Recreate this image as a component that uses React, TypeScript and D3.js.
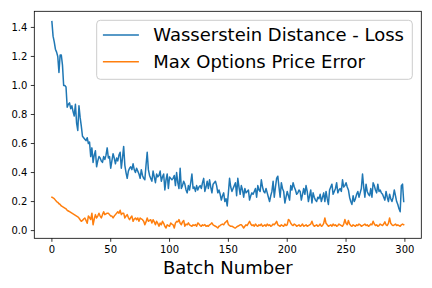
import React from "react";
import * as d3 from "d3";

const wassersteinLoss: number[] = [
  1.44,1.34,1.30,1.25,1.23,1.20,1.09,1.21,1.21,1.14,
  1.00,1.00,0.99,0.85,0.87,0.88,0.84,0.86,0.82,0.79,
  0.87,0.74,0.69,0.86,0.78,0.72,0.65,0.64,0.63,0.62,
  0.64,0.60,0.61,0.51,0.57,0.47,0.52,0.55,0.44,0.48,
  0.51,0.50,0.48,0.47,0.51,0.49,0.52,0.57,0.50,0.51,
  0.43,0.48,0.53,0.50,0.46,0.50,0.48,0.52,0.54,0.43,
  0.50,0.58,0.45,0.40,0.36,0.41,0.43,0.44,0.42,0.46,
  0.42,0.40,0.43,0.41,0.39,0.36,0.42,0.38,0.36,0.35,
  0.45,0.54,0.42,0.38,0.36,0.34,0.41,0.37,0.33,0.39,
  0.37,0.38,0.41,0.34,0.37,0.39,0.28,0.35,0.39,0.29,
  0.37,0.36,0.35,0.36,0.38,0.31,0.40,0.33,0.29,0.43,
  0.29,0.31,0.34,0.32,0.28,0.26,0.31,0.28,0.33,0.39,
  0.29,0.30,0.27,0.31,0.28,0.30,0.31,0.29,0.33,0.36,
  0.27,0.30,0.34,0.29,0.35,0.30,0.26,0.32,0.33,0.34,
  0.31,0.26,0.28,0.25,0.21,0.24,0.26,0.20,0.22,0.17,
  0.26,0.36,0.30,0.27,0.29,0.31,0.33,0.24,0.36,0.30,
  0.25,0.31,0.28,0.23,0.29,0.26,0.27,0.28,0.21,0.24,
  0.26,0.25,0.27,0.29,0.23,0.31,0.28,0.27,0.35,0.30,
  0.27,0.26,0.29,0.26,0.23,0.20,0.24,0.27,0.34,0.23,
  0.30,0.36,0.375,0.30,0.23,0.33,0.29,0.27,0.19,0.23,
  0.27,0.24,0.21,0.31,0.28,0.33,0.30,0.28,0.25,0.26,
  0.28,0.27,0.21,0.25,0.29,0.25,0.31,0.27,0.20,0.24,
  0.28,0.19,0.26,0.23,0.21,0.20,0.23,0.22,0.25,0.20,
  0.23,0.26,0.20,0.27,0.22,0.18,0.28,0.30,0.32,0.25,
  0.27,0.29,0.33,0.26,0.28,0.29,0.27,0.35,0.30,0.31,
  0.33,0.30,0.28,0.23,0.20,0.18,0.24,0.20,0.22,0.25,
  0.27,0.23,0.26,0.29,0.39,0.30,0.23,0.32,0.27,0.25,
  0.24,0.29,0.23,0.33,0.31,0.28,0.26,0.32,0.27,0.28,
  0.26,0.25,0.23,0.21,0.27,0.23,0.20,0.25,0.22,0.20,
  0.23,0.28,0.24,0.20,0.18,0.15,0.13,0.31,0.32,0.20,
];

const maxPriceError: number[] = [
  0.23,0.225,0.22,0.21,0.20,0.195,0.185,0.18,0.17,0.165,
  0.16,0.155,0.15,0.14,0.135,0.13,0.125,0.12,0.115,0.11,
  0.105,0.10,0.095,0.087,0.075,0.064,0.07,0.08,0.087,0.07,
  0.05,0.10,0.09,0.076,0.12,0.04,0.08,0.11,0.087,0.10,
  0.12,0.10,0.087,0.11,0.13,0.11,0.115,0.12,0.12,0.11,
  0.10,0.10,0.087,0.10,0.11,0.12,0.13,0.12,0.14,0.11,
  0.12,0.12,0.087,0.10,0.11,0.09,0.075,0.09,0.10,0.064,
  0.08,0.087,0.075,0.087,0.064,0.087,0.08,0.075,0.064,0.04,
  0.06,0.087,0.064,0.07,0.075,0.052,0.075,0.06,0.04,0.064,
  0.05,0.03,0.052,0.04,0.064,0.05,0.03,0.018,0.04,0.035,
  0.03,0.052,0.045,0.04,0.018,0.052,0.064,0.06,0.076,0.05,
  0.041,0.06,0.07,0.03,0.045,0.04,0.053,0.04,0.035,0.03,
  0.04,0.035,0.041,0.03,0.053,0.045,0.035,0.03,0.04,0.035,
  0.041,0.03,0.035,0.03,0.04,0.045,0.053,0.04,0.035,0.03,
  0.025,0.018,0.03,0.035,0.041,0.045,0.04,0.053,0.06,0.07,
  0.041,0.035,0.03,0.03,0.025,0.02,0.018,0.025,0.03,0.035,
  0.04,0.041,0.03,0.018,0.03,0.04,0.035,0.05,0.064,0.045,
  0.035,0.04,0.03,0.045,0.035,0.03,0.04,0.035,0.045,0.03,
  0.035,0.04,0.03,0.045,0.035,0.04,0.03,0.035,0.045,0.04,
  0.05,0.064,0.04,0.035,0.03,0.04,0.035,0.03,0.045,0.035,
  0.04,0.076,0.07,0.05,0.04,0.035,0.045,0.04,0.03,0.035,
  0.04,0.03,0.035,0.045,0.03,0.035,0.04,0.03,0.035,0.04,
  0.045,0.064,0.04,0.03,0.035,0.04,0.03,0.035,0.045,0.03,
  0.035,0.05,0.087,0.05,0.04,0.03,0.035,0.04,0.03,0.045,
  0.035,0.04,0.03,0.035,0.045,0.04,0.035,0.03,0.045,0.076,
  0.05,0.04,0.07,0.045,0.035,0.03,0.04,0.035,0.03,0.04,
  0.035,0.045,0.04,0.03,0.035,0.04,0.045,0.035,0.04,0.03,
  0.035,0.045,0.04,0.064,0.045,0.035,0.04,0.03,0.035,0.045,
  0.04,0.035,0.045,0.06,0.04,0.035,0.05,0.087,0.05,0.04,
  0.035,0.04,0.045,0.035,0.04,0.035,0.03,0.04,0.045,0.04,
];

const seriesNames = ["Wasserstein Distance - Loss", "Max Options Price Error"];
const seriesColors = ["#1f77b4", "#ff7f0e"];
const xTicks = [0, 50, 100, 150, 200, 250, 300];
const yTicks = [0.0, 0.2, 0.4, 0.6, 0.8, 1.0, 1.2, 1.4];
const xLabel = "Batch Number";

const W = 432, H = 288;
const left = 34.3, right = 421.3, top = 11.3, bottom = 238.3;
const FONT = "DejaVu Sans, sans-serif";

export default function App() {
  const n = wassersteinLoss.length;
  const x = d3.scaleLinear().domain([-0.05 * (n - 1), (n - 1) * 1.05]).range([left, right]);
  const allVals = [...wassersteinLoss, ...maxPriceError];
  const yMin = d3.min(allVals)!, yMax = d3.max(allVals)!;
  const pad = (yMax - yMin) * 0.05;
  const y = d3.scaleLinear().domain([yMin - pad, yMax + pad]).range([bottom, top]);
  const line = d3.line<number>().x((_, i) => x(i)).y((d) => y(d));
  const series = [wassersteinLoss, maxPriceError];

  const legX = 96.7, legY = 20.3, legW = 412.3 - 96.7, legH = 59;
  const rowY = [35, 61.7];

  return (
    <svg width={W} height={H} style={{ position: "fixed", left: 0, top: 0, background: "#fff" }} fontFamily={FONT}>
      <rect x={0} y={0} width={W} height={H} fill="#fff" />
      {series.map((s, k) => (
        <path key={k} d={line(s)!} fill="none" stroke={seriesColors[k]} strokeWidth={1.5} strokeLinejoin="round" strokeLinecap="square" />
      ))}
      <rect x={left} y={top} width={right - left} height={bottom - top} fill="none" stroke="#000" strokeWidth={0.8} />
      {xTicks.map((t) => (
        <g key={t}>
          <line x1={x(t)} x2={x(t)} y1={bottom} y2={bottom + 3.5} stroke="#000" strokeWidth={0.8} />
          <text x={x(t)} y={bottom + 7} dy="0.76em" textAnchor="middle" fontSize={10} fill="#000">{t}</text>
        </g>
      ))}
      {yTicks.map((t) => (
        <g key={t}>
          <line x1={left - 3.5} x2={left} y1={y(t)} y2={y(t)} stroke="#000" strokeWidth={0.8} />
          <text x={left - 7} y={y(t)} dy="0.36em" textAnchor="end" fontSize={10} fill="#000">{t.toFixed(1)}</text>
        </g>
      ))}
      <text x={(left + right) / 2} y={274} textAnchor="middle" fontSize={18} fill="#000">{xLabel}</text>
      <rect x={legX} y={legY} width={legW} height={legH} rx={3.6} ry={3.6} fill="#fff" fillOpacity={0.8} stroke="#cccccc" strokeWidth={1} />
      {seriesNames.map((name, k) => (
        <g key={name}>
          <line x1={legX + 7.2 - 1} x2={legX + 7.2 + 35} y1={rowY[k]} y2={rowY[k]} stroke={seriesColors[k]} strokeWidth={1.5} />
          <text x={legX + 7.2 + 36 + 14.4 - 1} y={rowY[k]} dy="0.36em" fontSize={18} fill="#000">{name}</text>
        </g>
      ))}
    </svg>
  );
}
